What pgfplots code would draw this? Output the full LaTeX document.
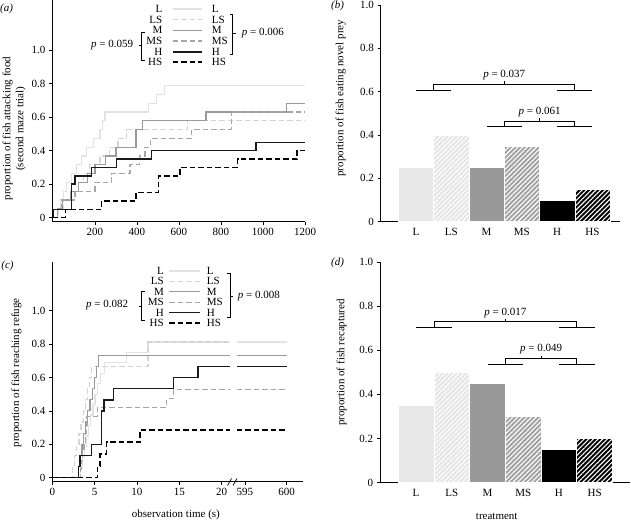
\documentclass[border=0pt]{standalone}
\usepackage{fontspec}
\setmainfont{Liberation Serif}
\usepackage{pgfplots}
\pgfplotsset{compat=1.18}
\usetikzlibrary{patterns.meta}

\definecolor{cL}{HTML}{E2E2E2}
\definecolor{cLS}{HTML}{D4D4D4}
\definecolor{cM}{HTML}{9A9A9A}
\definecolor{cMS}{HTML}{A6A6A6}
\definecolor{cH}{HTML}{1A1A1A}
\definecolor{cHS}{HTML}{000000}
\definecolor{bL}{HTML}{E8E8E8}
\definecolor{bLS}{HTML}{E4E4E4}
\definecolor{bM}{HTML}{999999}
\definecolor{bMS}{HTML}{A2A2A2}

\pgfplotsset{
  myax/.style={scale only axis, anchor=south west, axis lines*=left,
    tick align=outside, major tick length=3bp,
    axis line style={line width=0.7bp, black},
    every tick/.style={line width=0.7bp, black},
    /pgf/number format/assume math mode=true},
  sL/.style={const plot, no markers, color=cL, line width=1.2bp},
  sLS/.style={const plot, no markers, color=cLS, line width=1.2bp, dash pattern=on 5.5bp off 3bp},
  sM/.style={const plot, no markers, color=cM, line width=1.2bp},
  sMS/.style={const plot, no markers, color=cMS, line width=1.2bp, dash pattern=on 5.5bp off 3bp},
  sH/.style={const plot, no markers, color=cH, line width=1.5bp},
  sHS/.style={const plot, no markers, color=cHS, line width=1.5bp, dash pattern=on 5.5bp off 3bp},
  hatch/.style={postaction={pattern={Lines[angle=45,distance=3.3pt,line width=1.1pt]}, pattern color=white}},
}

\begin{document}
\fontsize{11bp}{13bp}\selectfont
\begin{tikzpicture}
\useasboundingbox (0,0) rectangle (631bp,521bp);

% ---------------- panel (a)
\begin{axis}[myax, at={(52.3bp,299.3bp)}, width=252.7bp, height=221.7bp,
  xmin=-3, xmax=1200, ymin=-0.024, ymax=1.3,
  xtick={200,400,600,800,1000,1200}, xticklabels={200,400,600,800,1000,1200},
  ytick={0,0.2,0.4,0.6,0.8,1}, yticklabels={0,0.2,0.4,0.6,0.8,1.0},
  ylabel={proportion of fish attacking food\\(second maze trial)},
  every axis y label/.style={at={(axis description cs:-0.151,0.42)}, rotate=90, anchor=center, align=center},
]
\addplot[sL] coordinates {(0,0) (20,0.0526) (35,0.1053) (49,0.1579) (65,0.2105) (89,0.2632) (113,0.3158) (137,0.3684) (160,0.4211) (192,0.4737) (224,0.5263) (236,0.5789) (248,0.6316) (454,0.6842) (494,0.7368) (533,0.7895) (1200,0.7895)};
\addplot[sLS] coordinates {(0,0) (25,0.0526) (49,0.1053) (89,0.1579) (120,0.2105) (145,0.2632) (175,0.3158) (224,0.3684) (270,0.4211) (310,0.4737) (351,0.5263) (640,0.5789) (1200,0.5789)};
\addplot[sM] coordinates {(0,0) (20,0.0526) (45,0.1053) (85,0.1579) (120,0.2105) (165,0.2632) (200,0.3158) (250,0.3684) (300,0.4211) (395,0.5263) (425,0.5789) (729,0.6316) (1113,0.6842) (1200,0.6842)};
\addplot[sMS] coordinates {(0,0) (20,0.0526) (41,0.1053) (105,0.1579) (200,0.2105) (279,0.2632) (367,0.3158) (414,0.3684) (438,0.4211) (465,0.4737) (660,0.5263) (851,0.6316) (1200,0.6316)};
\addplot[sH] coordinates {(0,0) (3,0.05) (89,0.20) (105,0.25) (184,0.30) (303,0.35) (470,0.40) (967,0.45) (1200,0.45)};
\addplot[sHS] coordinates {(0,0) (60,0.05) (232,0.10) (395,0.15) (502,0.25) (605,0.30) (879,0.35) (1163,0.40) (1200,0.40)};
\end{axis}

% ---------------- panel (c)
\begin{axis}[myax, at={(52.3bp,39.3bp)}, width=250.7bp, height=219.7bp,
  xmin=0, xmax=29.6, ymin=-0.024, ymax=1.2916,
  xtick={0,5,10,15,20,22.75,27.67}, xticklabels={0,5,10,15,20,595,600},
  ytick={0,0.2,0.4,0.6,0.8,1}, yticklabels={0,0.2,0.4,0.6,0.8,1.0},
  ylabel={proportion of fish reaching refuge},
  every axis y label/.style={at={(axis description cs:-0.143,0.495)}, rotate=90, anchor=center},
  xlabel={observation time (s)},
  every axis x label/.style={at={(axis description cs:0.493,-0.152)}, anchor=center},
]
\addplot[sL] coordinates {(0,0) (3.3,0.0625) (3.55,0.125) (3.8,0.1875) (4.05,0.25) (4.3,0.3125) (4.55,0.375) (4.8,0.4375) (5.05,0.5) (5.35,0.5625) (5.7,0.625) (6.2,0.6875) (8.8,0.75) (11.3,0.8125) (21.0,0.8125)};
\addplot[sL] coordinates {(21.8,0.8125) (27.67,0.8125)};
\addplot[sLS] coordinates {(0,0) (2.4,0.0667) (2.65,0.1333) (2.9,0.2) (3.15,0.2667) (3.4,0.3333) (3.65,0.4) (3.9,0.4667) (4.15,0.5333) (4.4,0.6) (4.65,0.6667) (11.3,0.8125) (21.0,0.8125)};
\addplot[sM] coordinates {(0,0) (3.07,0.0667) (3.3,0.1333) (3.5,0.2) (3.7,0.2667) (3.95,0.3333) (4.2,0.4) (4.45,0.4667) (4.7,0.5333) (4.95,0.6) (5.2,0.6667) (5.45,0.7333) (21.0,0.7333)};
\addplot[sM] coordinates {(21.8,0.7333) (27.67,0.7333)};
\addplot[sMS] coordinates {(0,0) (3.3,0.0526) (3.45,0.1053) (3.6,0.1579) (3.75,0.2105) (3.9,0.2632) (4.0,0.3158) (4.1,0.3684) (5.3,0.4211) (13.5,0.4737) (14.3,0.5263) (21.0,0.5263)};
\addplot[sMS] coordinates {(21.8,0.5263) (27.67,0.5263)};
\addplot[sH] coordinates {(0,0) (3.1,0.0667) (3.3,0.1333) (4.65,0.2) (5.8,0.4) (6.1,0.4667) (7.2,0.5333) (14.3,0.6) (17.2,0.6667) (21.0,0.6667)};
\addplot[sH] coordinates {(21.8,0.6667) (27.67,0.6667)};
\addplot[sHS] coordinates {(0,0) (5.35,0.0714) (5.65,0.1429) (6.4,0.2143) (10.35,0.2857) (21.0,0.2857)};
\addplot[sHS] coordinates {(21.8,0.2857) (27.67,0.2857)};
\end{axis}

% ---------------- panel (b)
\begin{axis}[myax, at={(380.7bp,299.3bp)}, width=239.3bp, height=216.7bp,
  xmin=-1, xmax=5.78, ymin=0, ymax=1,
  xtick={0,1,2,3,4,5}, xticklabels={L,LS,M,MS,H,HS}, xtick style={draw=none},
  ytick={0,0.2,0.4,0.6,0.8,1}, yticklabels={0,0.2,0.4,0.6,0.8,1.0},
  ylabel={proportion of fish eating novel prey},
  every axis y label/.style={at={(axis description cs:-0.167,0.57)}, rotate=90, anchor=center},
  ybar, bar width=1,
]
\addplot[bar shift=0pt, fill=bL, draw=white, line width=0.6bp] coordinates {(0,0.25)};
\addplot[bar shift=0pt, fill=bLS, draw=white, line width=0.6bp, hatch] coordinates {(1,0.40)};
\addplot[bar shift=0pt, fill=bM, draw=white, line width=0.6bp] coordinates {(2,0.25)};
\addplot[bar shift=0pt, fill=bMS, draw=white, line width=0.6bp, hatch] coordinates {(3,0.35)};
\addplot[bar shift=0pt, fill=black, draw=white, line width=0.6bp] coordinates {(4,0.10)};
\addplot[bar shift=0pt, fill=black, draw=white, line width=0.6bp, hatch] coordinates {(5,0.15)};
\draw[line width=0.7bp] (0,0.605)--(1,0.605) (4,0.605)--(5,0.605)
  (0.5,0.605)--(0.5,0.635)--(4.5,0.635)--(4.5,0.605) (2.5,0.635)--(2.5,0.647);
\node at (2.5,0.677) {\textit{p} = 0.037};
\draw[line width=0.7bp] (2,0.44)--(3,0.44) (4,0.44)--(5,0.44)
  (2.5,0.44)--(2.5,0.465)--(4.5,0.465)--(4.5,0.44) (3.5,0.465)--(3.5,0.477);
\node at (3.5,0.505) {\textit{p} = 0.061};
\end{axis}

% ---------------- panel (d)
\begin{axis}[myax, at={(380bp,38.3bp)}, width=250bp, height=220.8bp,
  xmin=-1.01, xmax=5.99, ymin=0, ymax=1,
  xtick={0,1,2,3,4,5}, xticklabels={L,LS,M,MS,H,HS}, xtick style={draw=none},
  ytick={0,0.2,0.4,0.6,0.8,1}, yticklabels={0,0.2,0.4,0.6,0.8,1.0},
  ylabel={proportion of fish recaptured},
  every axis y label/.style={at={(axis description cs:-0.153,0.545)}, rotate=90, anchor=center},
  xlabel={treatment},
  every axis x label/.style={at={(axis description cs:0.467,-0.151)}, anchor=center},
  ybar, bar width=1,
]
\addplot[bar shift=0pt, fill=bL, draw=white, line width=0.6bp] coordinates {(0,0.35)};
\addplot[bar shift=0pt, fill=bLS, draw=white, line width=0.6bp, hatch] coordinates {(1,0.50)};
\addplot[bar shift=0pt, fill=bM, draw=white, line width=0.6bp] coordinates {(2,0.45)};
\addplot[bar shift=0pt, fill=bMS, draw=white, line width=0.6bp, hatch] coordinates {(3,0.30)};
\addplot[bar shift=0pt, fill=black, draw=white, line width=0.6bp] coordinates {(4,0.15)};
\addplot[bar shift=0pt, fill=black, draw=white, line width=0.6bp, hatch] coordinates {(5,0.20)};
\draw[line width=0.7bp] (0,0.702)--(1,0.702) (4,0.702)--(5,0.702)
  (0.5,0.702)--(0.5,0.729)--(4.5,0.729)--(4.5,0.702) (2.5,0.729)--(2.5,0.741);
\node at (2.5,0.767) {\textit{p} = 0.017};
\draw[line width=0.7bp] (2,0.536)--(3,0.536) (4,0.536)--(5,0.536)
  (2.5,0.536)--(2.5,0.563)--(4.5,0.563)--(4.5,0.536) (3.5,0.563)--(3.5,0.575);
\node at (3.5,0.604) {\textit{p} = 0.049};
\end{axis}

% ---------------- annotations in pixel coordinates
\begin{scope}[x=1bp, y=-1bp, yshift=521bp]
  % panel letters
  \node at (6.5,9) {\textit{(a)}};
  \node at (337.5,6) {\textit{(b)}};
  \node at (7.5,266) {\textit{(c)}};
  \node at (337.5,262.5) {\textit{(d)}};
  % legend (a)
  \foreach \lab/\yy in {L/9, LS/19.7, M/30.3, MS/41, H/51.7, HS/62.3}{
    \node[anchor=east, inner sep=0pt] at (162.5,\yy) {\lab};
    \node[anchor=west, inner sep=0pt] at (211.7,\yy) {\lab};
  }
  \draw[cL, line width=1.2bp] (172.5,9)--(201.7,9);
  \draw[cLS, line width=1.2bp, dash pattern=on 5.5bp off 3bp] (172.5,19.7)--(201.7,19.7);
  \draw[cM, line width=1.2bp] (172.5,30.3)--(201.7,30.3);
  \draw[cMS, line width=1.2bp, dash pattern=on 5.5bp off 3bp] (172.5,41)--(201.7,41);
  \draw[cH, line width=1.8bp] (172.5,51.7)--(201.7,51.7);
  \draw[cHS, line width=1.8bp, dash pattern=on 5.5bp off 3bp] (172.5,62.3)--(201.7,62.3);
  \draw[line width=0.7bp] (229.5,14)--(232.5,14)--(232.5,54)--(229.5,54) (232.5,33.3)--(235.5,33.3);
  \node[anchor=west, inner sep=0pt] at (241.7,33.3) {\textit{p} = 0.006};
  \draw[line width=0.7bp] (144.7,32)--(141.7,32)--(141.7,60)--(144.7,60) (141.7,45)--(138.7,45);
  \node[anchor=east, inner sep=0pt] at (133.3,45) {\textit{p} = 0.059};
  % legend (c)
  \foreach \lab/\yy in {L/271, LS/281.4, M/291.8, MS/302.2, H/312.6, HS/323}{
    \node[anchor=east, inner sep=0pt] at (164,\yy) {\lab};
    \node[anchor=west, inner sep=0pt] at (206.7,\yy) {\lab};
  }
  \draw[cL, line width=1.2bp] (169.3,271)--(200,271);
  \draw[cLS, line width=1.2bp, dash pattern=on 5.5bp off 3bp] (169.3,281.4)--(200,281.4);
  \draw[cM, line width=1.2bp] (169.3,291.8)--(200,291.8);
  \draw[cMS, line width=1.2bp, dash pattern=on 5.5bp off 3bp] (169.3,302.2)--(200,302.2);
  \draw[cH, line width=1.8bp] (169.3,312.6)--(200,312.6);
  \draw[cHS, line width=1.8bp, dash pattern=on 5.5bp off 3bp] (169.3,323)--(200,323);
  \draw[line width=0.7bp] (227,273)--(230,273)--(230,317)--(227,317) (230,296)--(233,296);
  \node[anchor=west, inner sep=0pt] at (237.7,296) {\textit{p} = 0.008};
  \draw[line width=0.7bp] (144.7,291.7)--(141.7,291.7)--(141.7,320)--(144.7,320) (141.7,306)--(138.7,306);
  \node[anchor=east, inner sep=0pt] at (128.3,305) {\textit{p} = 0.082};
  % axis break marks (c)
  \draw[line width=0.7bp] (227.5,485.5)--(231.5,478.5) (233,485.5)--(237,478.5);
\end{scope}
\end{tikzpicture}
\end{document}
